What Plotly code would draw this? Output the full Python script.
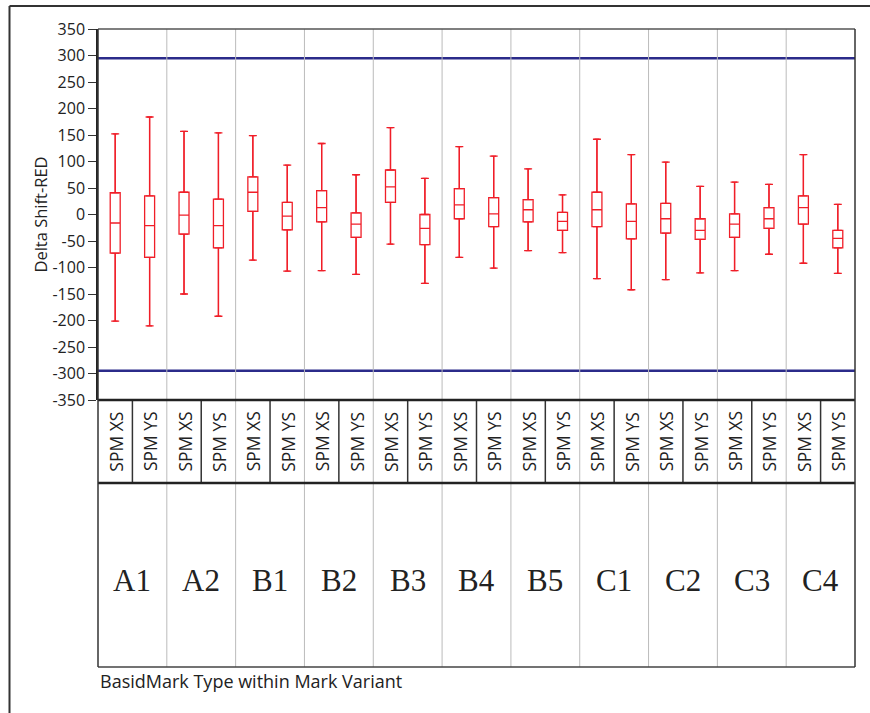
import plotly.graph_objects as go

# =============================================================================
# data
# =============================================================================
groups = ["A1", "A2", "B1", "B2", "B3", "B4", "B5", "C1", "C2", "C3", "C4"]
types = ["SPM XS", "SPM YS"]

upper = [152, 184, 157, 154, 149, 93, 134, 75, 164, 68, 128, 110, 86, 37, 142, 113, 99, 53, 61, 57, 113, 19]
q3 = [41, 35, 42, 29, 71, 23, 45, 3, 84, 0, 49, 32, 28, 4, 42, 20, 21, -8, 1, 13, 35, -30]
median = [-16, -21, -1, -21, 42, -3, 13, -18, 52, -26, 18, 1, 9, -13, 9, -13, -8, -30, -18, -8, 13, -45]
q1 = [-73, -81, -37, -63, 6, -29, -14, -43, 23, -57, -8, -23, -14, -30, -23, -46, -35, -47, -43, -26, -18, -63]
lower = [-201, -210, -150, -192, -86, -107, -106, -113, -56, -130, -81, -101, -68, -72, -121, -142, -123, -110, -106, -75, -92, -111]

limits = [295, -295]
y_ticks = list(range(-350, 351, 50))

# =============================================================================
# geometry (pixels of the 870x713 page)
# =============================================================================
W, H = 870, 713
L, R, T, B = 98, 15, 29, 46
plot_h = H - T - B
def py(pix):
    # page pixel row -> paper y
    return (H - B - pix) / plot_h
def px(pix):
    return (pix - L) / (W - L - R)

y_dom0 = py(400)
row1_bottom = py(483)

RED = "#f01e28"
BLUE = "#2b2b8a"
FONT = "Open Sans"

n = len(median)
xs = list(range(n))

fig = go.Figure()

fig.add_trace(go.Box(
    x=xs, q1=q1, median=median, q3=q3, lowerfence=lower, upperfence=upper,
    width=0.29, fillcolor="white", line=dict(color=RED, width=1.3),
    boxpoints=False, showlegend=False))

# whisker caps
fig.add_trace(go.Scatter(
    x=xs, y=q3, mode="markers", marker=dict(size=1, color="rgba(0,0,0,0)"),
    error_y=dict(type="data", symmetric=False,
                 array=[u - q for u, q in zip(upper, q3)], arrayminus=[0] * n,
                 width=4, thickness=1.3, color=RED),
    showlegend=False, hoverinfo="skip"))
fig.add_trace(go.Scatter(
    x=xs, y=q1, mode="markers", marker=dict(size=1, color="rgba(0,0,0,0)"),
    error_y=dict(type="data", symmetric=False,
                 array=[0] * n, arrayminus=[q - lo for q, lo in zip(q1, lower)],
                 width=4, thickness=1.3, color=RED),
    showlegend=False, hoverinfo="skip"))

shapes = []
# spec limit lines
for lim in limits:
    shapes.append(dict(type="line", xref="paper", yref="y", x0=0, x1=1, y0=lim, y1=lim,
                       line=dict(color=BLUE, width=2.5), layer="below"))
# group separators
for g in range(1, len(groups)):
    shapes.append(dict(type="line", xref="x", yref="paper", x0=2 * g - 0.5, x1=2 * g - 0.5,
                       y0=0, y1=1, line=dict(color="#bbbbbb", width=1), layer="below"))
# XS / YS separators in label row
for g in range(len(groups)):
    shapes.append(dict(type="line", xref="x", yref="paper", x0=2 * g + 0.5, x1=2 * g + 0.5,
                       y0=row1_bottom, y1=y_dom0, line=dict(color="#333333", width=1.5)))
# horizontal rules
for yy, col, w in [(1, "#555555", 1.5), (y_dom0, "#222222", 2.5),
                   (row1_bottom, "#222222", 2.5), (0, "#444444", 1.5)]:
    shapes.append(dict(type="line", xref="paper", yref="paper", x0=0, x1=1, y0=yy, y1=yy,
                       line=dict(color=col, width=w)))
# left / right borders
for xx in [0, 1]:
    shapes.append(dict(type="line", xref="paper", yref="paper", x0=xx, x1=xx, y0=0, y1=1,
                       line=dict(color="#333333", width=1.5)))
# outer frame (top and left)
shapes.append(dict(type="line", xref="paper", yref="paper", x0=px(9.5), x1=px(W), y0=py(6), y1=py(6),
                   line=dict(color="#333333", width=2)))
shapes.append(dict(type="line", xref="paper", yref="paper", x0=px(9.5), x1=px(9.5), y0=py(6), y1=py(H),
                   line=dict(color="#333333", width=2)))

annotations = []
for i in xs:
    annotations.append(dict(x=i, y=(row1_bottom + y_dom0) / 2, xref="x", yref="paper",
                            yanchor="middle", text=types[i % 2], textangle=-90, showarrow=False,
                            font=dict(family=FONT, size=17.5, color="#222222")))
for g, name in enumerate(groups):
    annotations.append(dict(x=2 * g + 0.5, y=py(580), xref="x", yref="paper", text=name,
                            yanchor="middle", showarrow=False,
                            font=dict(family="Liberation Serif", size=31, color="#222222")))
annotations.append(dict(x=0, y=py(681), xref="paper", yref="paper", xanchor="left",
                        yanchor="middle", text="BasidMark Type within Mark Variant", showarrow=False,
                        font=dict(family=FONT, size=18, color="#222222")))

fig.update_layout(
    width=W, height=H, margin=dict(l=L, r=R, t=T, b=B),
    paper_bgcolor="white", plot_bgcolor="white",
    shapes=shapes, annotations=annotations,
    xaxis=dict(range=[-0.5, n - 0.5], showticklabels=False, showgrid=False,
               zeroline=False, showline=False, ticks=""),
    yaxis=dict(domain=[y_dom0, 1], range=[-350, 350], tickvals=y_ticks,
               ticktext=[str(v) for v in y_ticks],
               ticks="outside", ticklen=8, tickcolor="#333333",
               showgrid=False, zeroline=False, showline=True, linecolor="#222222", linewidth=1.5,
               tickfont=dict(family=FONT, size=16, color="#222222"),
               title=dict(text="Delta Shift-RED", standoff=0,
                          font=dict(family=FONT, size=16.5, color="#222222"))),
)

fig.write_html("out.html", config={"displayModeBar": False},
               post_script="document.body.style.margin='0';")
